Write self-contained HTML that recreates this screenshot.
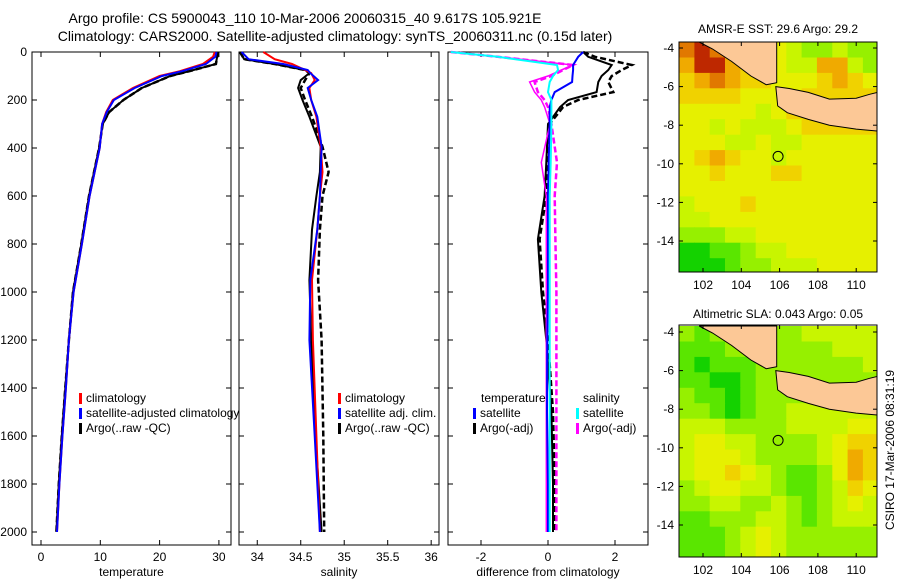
<!DOCTYPE html>
<html><head><meta charset="utf-8"><style>
body{margin:0;background:#fff;}
svg{display:block;font-family:"Liberation Sans",sans-serif;}
text{fill:#000;}
</style></head><body>
<svg id="c" width="900" height="580" viewBox="0 0 900 580">
<text x="305" y="23" font-size="14" text-anchor="middle">Argo profile: CS 5900043_110 10-Mar-2006 20060315_40 9.617S 105.921E</text>
<text x="335" y="41" font-size="14" text-anchor="middle">Climatology: CARS2000. Satellite-adjusted climatology: synTS_20060311.nc (0.15d later)</text>
<text x="778" y="33" font-size="12" text-anchor="middle">AMSR-E SST: 29.6 Argo: 29.2</text>
<text x="778" y="318" font-size="12" text-anchor="middle">Altimetric SLA: 0.043 Argo: 0.05</text>
<text transform="translate(894,450) rotate(-90)" font-size="12" text-anchor="middle">CSIRO 17-Mar-2006 08:31:19</text>
<text x="327" y="517" font-size="12">Argo AUSTRALIA</text>
<text x="327" y="531" font-size="12">PI: Susan Wijffels</text>
</svg>
<script>
// ---------- profile data ----------
const tDepth=[0,20,50,80,100,150,200,250,300,400,600,800,1000,1200,1400,1600,1800,2000];
const tClim=[29.3,29,27.3,23.4,20,15.5,12.1,11,10.3,9.9,8.2,6.9,5.5,4.7,4.2,3.6,3.1,2.7];
const tSat=[29.6,29.4,27.8,23.8,20.4,15.8,12.3,11.1,10.3,9.9,8.2,6.9,5.5,4.7,4.2,3.6,3.1,2.7];
const tArgo=[29.8,29.7,29.5,25,21.8,17,13.9,11.5,10.4,9.8,8.1,6.8,5.4,4.7,4.1,3.5,3.0,2.6];
const sDepth=[0,30,50,75,88,117,150,200,270,395,500,600,740,950,1200,1600,2000];
const sClim=[34.07,34.2,34.4,34.55,34.62,34.66,34.6,34.62,34.68,34.73,34.75,34.72,34.69,34.63,34.64,34.68,34.72];
const sSat=[33.82,33.9,34.3,34.58,34.61,34.7,34.58,34.62,34.69,34.74,34.73,34.72,34.69,34.61,34.6,34.66,34.72];
const sArgo=[33.8,33.85,34.2,34.55,34.6,34.5,34.47,34.52,34.6,34.73,34.72,34.68,34.63,34.6,34.62,34.67,34.74];
const sArgoRaw=[33.8,33.85,34.2,34.55,34.6,34.55,34.5,34.55,34.63,34.75,34.82,34.75,34.72,34.7,34.74,34.76,34.77];
const dDepth=[0,20,54,75,100,125,167,200,229,300,460,600,780,1000,1200,1500,1800,2000];
const dTsat=[1.05,0.9,0.75,0.75,0.73,0.72,0.2,0.1,0.05,0.05,0.02,0.0,0.0,0.0,-0.02,-0.03,0.0,0.0];
const dTargo=[1.05,1.2,1.9,1.8,1.6,1.5,1.45,0.6,0.36,0.0,-0.05,-0.1,-0.3,-0.2,-0.05,0.1,0.15,0.15];
const dTargoRaw=[1.05,1.4,2.5,2.2,1.9,1.8,1.95,0.9,0.45,0.05,0.0,-0.05,-0.25,-0.15,0.0,0.15,0.2,0.2];
const dSsat=[-2.9,-1.5,0.27,0.3,0.15,0.05,0.0,0.1,0.1,0.1,0.08,0.05,0.05,0.05,0.05,0.05,0.05,0.05];
const dSargo=[-2.9,-1.5,0.75,0.4,0.0,-0.55,-0.4,-0.2,-0.1,0.06,-0.2,-0.05,-0.05,-0.05,-0.05,-0.05,-0.05,-0.05];
const dSargoRaw=[-2.9,-1.5,0.75,0.45,0.1,-0.4,-0.3,-0.1,0.0,0.1,0.27,0.2,0.22,0.25,0.25,0.25,0.25,0.25];
const depthTicks=[0,200,400,600,800,1000,1200,1400,1600,1800,2000];
const tTicks=[0,10,20,30];
const sTicks=[34,34.5,35,35.5,36];
const sTickLabels=["34","34.5","35","35.5","36"];
const dTicks=[-2,0,2];
// ---------- map data (color index 0 green .. 10 red) ----------
const mapLon0=100.75, mapLat0=-3.69, cellDeg=0.8;
const sstGrid=[
[8,9,8,7,6,5,5,4,3,3,4,3,3],[7,9,9,7,6,6,5,4,4,7,7,4,3],[6,7,8,7,6,6,5,5,5,6,7,6,5],
[6,6,6,6,5,5,5,5,6,6,6,6,6],[5,5,5,5,5,4,5,6,6,6,7,7,6],[5,5,4,5,4,4,4,5,6,6,6,6,6],
[5,5,5,4,4,5,4,4,5,5,5,5,5],[5,6,7,6,5,5,4,5,5,5,5,5,5],[5,5,6,5,5,5,6,6,5,5,5,5,5],
[5,5,5,5,5,5,5,5,5,5,5,5,5],[4,5,5,5,6,5,5,5,5,5,5,5,5],[4,4,5,5,5,5,5,5,5,5,5,5,5],
[3,3,3,4,4,5,5,5,5,5,5,5,5],[1,1,2,2,3,4,4,5,5,5,5,5,5],[1,1,1,2,3,3,4,4,4,5,5,5,5]];
const slaGrid=[
[3,2,3,3,3,3,3,3,4,4,4,4,4],[2,2,2,3,3,3,3,3,3,3,4,4,4],[2,1,2,2,2,3,3,3,3,3,3,3,4],
[2,2,1,1,2,3,3,3,3,3,3,3,3],[3,2,2,1,2,3,3,3,3,3,3,3,3],[3,3,2,1,2,3,3,4,4,4,4,4,4],
[4,4,4,3,3,3,3,4,4,4,4,5,5],[4,5,5,4,4,3,3,3,3,4,5,6,6],[4,5,5,5,4,3,3,3,3,4,5,7,6],
[4,5,5,6,5,4,3,2,2,3,5,7,6],[3,4,5,5,4,4,3,2,2,3,4,6,5],[3,3,4,4,3,3,4,3,2,3,4,5,4],
[2,2,3,3,3,4,4,3,2,3,4,4,4],[2,2,2,3,4,5,4,3,3,3,3,3,3],[2,2,2,3,4,5,4,3,3,3,3,3,3]];
const sumatra=[[101.8,-3.69],[102.5,-4.05],[103.5,-4.7],[104.5,-5.45],[105.3,-5.9],[105.85,-5.8],[105.85,-3.69]];
const java=[[105.8,-6.0],[106.5,-6.1],[107.5,-6.3],[108.6,-6.65],[110,-6.6],[110.7,-6.4],[111.1,-6.3],[111.1,-8.3],[110,-8.2],[108.6,-8.0],[107.5,-7.7],[106.4,-7.35],[105.9,-7.0]];
const argoPos=[105.921,-9.617];
const latTicks=[-4,-6,-8,-10,-12,-14];
const lonTicks=[102,104,106,108,110];

const NS="http://www.w3.org/2000/svg";
const svg=document.getElementById('c');
function mk(tag,attrs,parent){const e=document.createElementNS(NS,tag);for(const k in attrs)e.setAttribute(k,attrs[k]);(parent||svg).appendChild(e);return e;}
const yTop=52,yPx=0.24;
const yS=d=>yTop+d*yPx;
function panel(name,x0,x1,xmin,xmax,ticks,labels,xlabel,showY){
  const xS=v=>x0+(v-xmin)/(xmax-xmin)*(x1-x0);
  const g=mk('g',{});
  
  
  const r=mk('rect',{x:x0,y:yTop,width:x1-x0,height:545-yTop,fill:'#fff',stroke:'#000','stroke-width':1},g);
  
  
  ticks.forEach((t,i)=>{const x=xS(t);
    mk('line',{x1:x,x2:x,y1:545,y2:540,stroke:'#000'},g);mk('line',{x1:x,x2:x,y1:yTop,y2:yTop+5,stroke:'#000'},g);
    const tx=mk('text',{x:x,y:561,'font-size':12,'text-anchor':'middle'},g);tx.textContent=labels[i];
    
    });
  depthTicks.forEach(d=>{const y=yS(d);
    mk('line',{x1:x0,x2:x0+5,y1:y,y2:y,stroke:'#000'},g);mk('line',{x1:x1,x2:x1-5,y1:y,y2:y,stroke:'#000'},g);
    if(showY){const tx=mk('text',{x:x0-5,y:y+4,'font-size':12,'text-anchor':'end'},g);tx.textContent=d;
      
      }});
  const xl=mk('text',{x:(x0+x1)/2,y:576,'font-size':12,'text-anchor':'middle'},g);xl.textContent=xlabel;
  
  
  return {g,xS};
}
function line(p,depths,vals,color,dash,w,name){
  const pts=depths.map((d,i)=>p.xS(vals[i]).toFixed(1)+','+yS(d).toFixed(1)).join(' ');
  const pl=mk('polyline',{points:pts,fill:'none',stroke:color,'stroke-width':w||2,'stroke-dasharray':dash||'none'},p.g);
  
  
}
function legend(g,x,y,color,label,name){
  mk('rect',{x:x,y:y-9,width:3,height:11,fill:color},g);
  const t=mk('text',{x:x+7,y:y,'font-size':12},g);t.textContent=label;
  
  
}
const p1=panel('temperature-panel',32,231,-1.52,32.04,tTicks,tTicks.map(String),'temperature',true);
line(p1,tDepth,tArgo,'#000','6,3',2.5,'temp-argo-raw-line');
line(p1,tDepth,tArgo,'#000','',2,'temp-argo-qc-line');
line(p1,tDepth,tClim,'#f00','',2,'temp-climatology-line');
line(p1,tDepth,tSat,'#00f','',2,'temp-satellite-line');
legend(p1.g,79,402,'#f00','climatology','legend-climatology');
legend(p1.g,79,417,'#00f','satellite-adjusted climatology','legend-satellite-adjusted');
legend(p1.g,79,432,'#000','Argo(..raw -QC)','legend-argo');
const p2=panel('salinity-panel',239,439,33.79,36.09,sTicks,sTickLabels,'salinity',false);
line(p2,sDepth,sArgoRaw,'#000','6,3',2.5,'sal-argo-raw-line');
line(p2,sDepth,sArgo,'#000','',2,'sal-argo-qc-line');
line(p2,sDepth,sClim,'#f00','',2,'sal-climatology-line');
line(p2,sDepth,sSat,'#00f','',2,'sal-satellite-line');
legend(p2.g,338,402,'#f00','climatology','legend-sal-climatology');
legend(p2.g,338,417,'#00f','satellite adj. clim.','legend-sal-satellite');
legend(p2.g,338,432,'#000','Argo(..raw -QC)','legend-sal-argo');
const p3=panel('difference-panel',448,648,-2.985,2.985,dTicks,dTicks.map(String),'difference from climatology',false);
line(p3,dDepth,dTargoRaw,'#000','6,3',2.5,'diff-temp-argo-raw');
line(p3,dDepth,dTargo,'#000','',2,'diff-temp-argo');
line(p3,dDepth,dSargoRaw,'#f0f','6,3',2.5,'diff-sal-argo-raw');
line(p3,dDepth,dSargo,'#f0f','',1.5,'diff-sal-argo');
line(p3,dDepth,dTsat,'#00f','',2,'diff-temp-satellite');
line(p3,dDepth,dSsat,'#0ff','',2,'diff-sal-satellite');
const th=mk('text',{x:481,y:402,'font-size':12},p3.g);th.textContent='temperature';


const sh=mk('text',{x:583,y:402,'font-size':12},p3.g);sh.textContent='salinity';


legend(p3.g,473,417,'#00f','satellite','legend-temp-satellite');
legend(p3.g,473,432,'#000','Argo(-adj)','legend-temp-argo');
legend(p3.g,576,417,'#0ff','satellite','legend-sal-satellite-diff');
legend(p3.g,576,432,'#f0f','Argo(-adj)','legend-sal-argo-diff');

// ---------- maps ----------
const cmap=[[0,190,40],[20,210,0],[90,230,0],[150,240,0],[200,245,0],[230,240,0],[240,210,0],[240,170,0],[225,120,0],[190,40,0],[160,0,0]];
function map(name,grid,x0,y0,x1,y1,lat4y,latPx){
  const lonS=l=>703+(l-102)*19.15;
  const latS=l=>lat4y+(-4-l)*latPx;
  const g=mk('g',{});
  
  
  const cp=mk('clipPath',{id:name+'-clip'},g);mk('rect',{x:x0,y:y0,width:x1-x0,height:y1-y0},cp);
  const inner=mk('g',{'clip-path':'url(#'+name+'-clip)'},g);
  grid.forEach((row,r)=>row.forEach((v,c)=>{
    const lx=lonS(mapLon0+c*cellDeg),rx=lonS(mapLon0+(c+1)*cellDeg);
    const ty=latS(mapLat0-r*cellDeg),by=latS(mapLat0-(r+1)*cellDeg);
    const col=cmap[v];
    const cell=mk('rect',{x:lx.toFixed(1),y:ty.toFixed(1),width:(rx-lx+0.6).toFixed(1),height:(by-ty+0.6).toFixed(1),fill:'rgb('+col+')'},inner);
    
    
  }));
  [sumatra,java].forEach((poly,i)=>{
    const pg=mk('polygon',{points:poly.map(p=>lonS(p[0]).toFixed(1)+','+latS(p[1]).toFixed(1)).join(' '),fill:'#fcc896',stroke:'#000','stroke-width':1},inner);
    
    
  });
  const ci=mk('circle',{cx:lonS(argoPos[0]),cy:latS(argoPos[1]),r:5,fill:'none',stroke:'#000'},g);
  
  
  mk('rect',{x:x0,y:y0,width:x1-x0,height:y1-y0,fill:'none',stroke:'#000'},g);
  latTicks.forEach(l=>{const y=latS(l);
    mk('line',{x1:x0,x2:x0+4,y1:y,y2:y,stroke:'#000'},g);mk('line',{x1:x1,x2:x1-4,y1:y,y2:y,stroke:'#000'},g);
    const t=mk('text',{x:x0-5,y:y+4,'font-size':12,'text-anchor':'end'},g);t.textContent=l;
    
    });
  lonTicks.forEach(l=>{const x=lonS(l);
    mk('line',{x1:x,x2:x,y1:y1,y2:y1-4,stroke:'#000'},g);mk('line',{x1:x,x2:x,y1:y0,y2:y0+4,stroke:'#000'},g);
    const t=mk('text',{x:x,y:y1+17,'font-size':12,'text-anchor':'middle'},g);t.textContent=l;
    
    });
}
map('sst-map',sstGrid,679,42,877,272,48,19.3);
map('sla-map',slaGrid,679,325,877,557,332,19.3);
</script>
</body></html>
